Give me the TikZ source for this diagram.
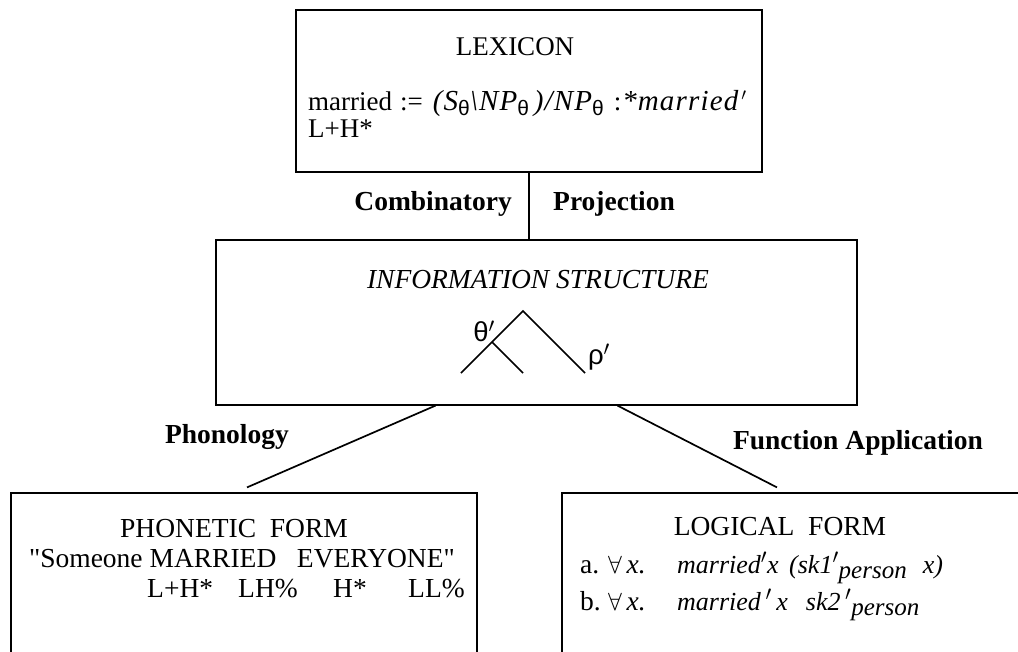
\documentclass[tikz,border=0pt]{standalone}
\usepackage{fontspec}
\setmainfont{Liberation Serif}
\newfontfamily\greekfont{Liberation Sans}
\usetikzlibrary{positioning}

\tikzset{
  box/.style={draw, line width=1.2pt, inner sep=0pt},
  link/.style={line width=1.7pt},
  txt/.style={font=\fontsize{27.5}{30}\selectfont, inner sep=0pt, anchor=base},
  lbl/.style={font=\fontsize{27.5}{30}\selectfont\bfseries, inner sep=0pt, anchor=base},
}
\newcommand{\thsub}{\raisebox{-0.45ex}{\upshape\greekfont\fontsize{21}{21}\selectfont θ}}
\newcommand{\spacedit}[1]{{\fontsize{29}{30}\selectfont\itshape\addfontfeature{LetterSpace=4}#1}}
\newcommand{\perssub}[1]{\raisebox{-5pt}{\fontsize{25}{25}\selectfont\itshape #1}}
\newcommand{\lfit}[1]{{\fontsize{26}{30}\selectfont\itshape #1}}

\begin{document}
\begin{tikzpicture}[x=1pt, y=-1pt]
    \useasboundingbox (0,0) rectangle (1018,651);
    \clip (0,0) rectangle (1018,651);

    % boxes
    \node[box, minimum width=466pt, minimum height=162pt] (lexicon) at (529,91) {};
    \node[box, minimum width=641pt, minimum height=165pt] (info) at (536.5,322.5) {};
    \node[box, minimum width=466pt, minimum height=200pt] (phon) at (244,593) {};
    \node[box, minimum width=470pt, minimum height=200pt] (logic) at (797,593) {};

    % connectors
    \draw[link] (lexicon.south) -- (lexicon.south |- info.north);
    \draw[link] ([xshift=-101pt]info.south) -- ([xshift=3pt,yshift=5pt]phon.north);
    \draw[link] ([xshift=81pt]info.south) -- ([xshift=-20pt,yshift=5pt]logic.north);

    \node[lbl, anchor=base east] (comb) at (512,210) {Combinatory};
    \node[lbl, anchor=base west] (proj) at (553,210) {Projection};
    \node[lbl] (phonlbl) at (227,443) {Phonology};
    \node[lbl] (funclbl) at (858,449) {Function Application};

    % lexicon
    \node[txt, font=\fontsize{27}{30}\selectfont] (lexhead) at (515,55) {LEXICON};
    \node[txt, font=\fontsize{27}{30}\selectfont, anchor=base west] (lexentry) at (308,110)
        {married\hspace{8pt}:=\hspace{10pt}\spacedit{(S\thsub\textbackslash NP\thsub\,)/NP\thsub}\hspace{10pt}:\hspace{1pt}\spacedit{*married}\hspace{3pt}$'$};
    \node[txt, font=\fontsize{27}{30}\selectfont, anchor=base west] (lextone) at (308,137) {L+H*};

    % information structure
    \node[txt] (infohead) at (538,288) {\textit{INFORMATION STRUCTURE}};
    \draw[line width=1.7pt] (461,373) -- (523,311) -- (585,373);
    \draw[line width=1.7pt] (492,342) -- (523,373);
    \node[txt, anchor=center] (theme) at (484,331) {\greekfont θ$'$};
    \node[txt, anchor=center] (rheme) at (599,357) {\greekfont ρ$'$};

    % phonetic form
    \node[txt] (phonhead) at (234,537) {PHONETIC\ \ FORM};
    \node[txt] (phonstr) at (242,567) {\textquotedbl Someone MARRIED\ \ \ EVERYONE\textquotedbl};
    \foreach \t/\x/\n in {L+H*/147/1, LH\%/238/2, H*/333/3, LL\%/408/4} {
        \node[txt, anchor=base west] (tone\n) at (\x,597) {\t};
    }

    % logical form
    \node[txt] (logichead) at (780,535) {LOGICAL\ \ FORM};
    \node[txt, anchor=base west] (lfa) at (580,573)
        {\makebox[28pt][l]{a.}\makebox[69pt][l]{$\forall$\,\textit{x.}}\makebox[112pt][l]{\lfit{married}$'$\lfit{x}}\lfit{(sk1}$'$\perssub{person}\hspace{16pt}\lfit{x)}};
    \node[txt, anchor=base west] (lfb) at (580,610)
        {\makebox[28pt][l]{b.}\makebox[69pt][l]{$\forall$\,\textit{x.}}\lfit{married}\,$'$\,\lfit{x}\hspace{18pt}\lfit{sk2}\,$'$\perssub{person}};
\end{tikzpicture}
\end{document}
